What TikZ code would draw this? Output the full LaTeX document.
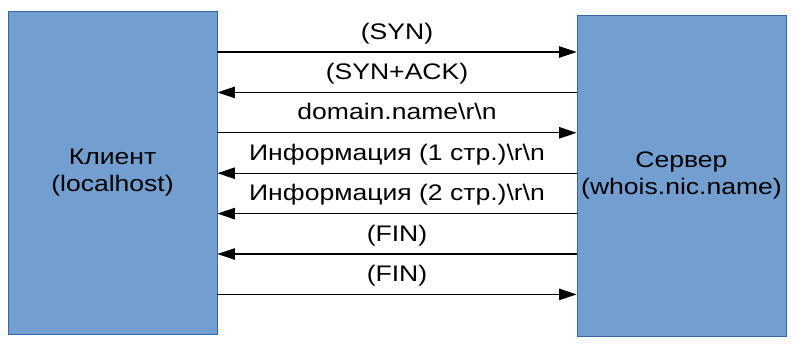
\documentclass[tikz,border=0pt]{standalone}
\usepackage{fontspec}
\setmainfont{Liberation Sans}[FakeStretch=1.18]
\usepackage{xcolor}
\usepackage{tikz}
\usetikzlibrary{arrows.meta}

\definecolor{boxfill}{HTML}{729FCF}
\definecolor{boxline}{HTML}{3465A4}

\begin{document}
\begin{tikzpicture}[x=1pt,y=-1pt,>={Triangle[length=17.5pt,width=11.5pt]},
  host/.style={draw=boxline,line width=0.9pt,fill=boxfill,minimum width=209pt,
    inner sep=0pt,align=center,font=\fontsize{22.5}{27}\selectfont},
  msg/.style={line width=1.1pt},
  lbl/.style={midway,anchor=base,yshift=13pt,inner sep=0pt,font=\fontsize{22.5}{27}\selectfont}]
  \useasboundingbox (0,0) rectangle (794,346);
  \node[host,minimum height=323pt] (client) at (112.5,172.5) {Клиент\\(localhost)};
  \node[host,minimum height=321pt] (server) at (681.5,175.5) {Сервер\\(whois.nic.name)};
  \draw[msg,->] (client.east |- 0,52) -- (server.west |- 0,52)
    node[lbl] (syn) {(SYN)};
  \draw[msg,<-] (client.east |- 0,92.4) -- (server.west |- 0,92.4)
    node[lbl] (synack) {(SYN+ACK)};
  \draw[msg,->] (client.east |- 0,132.8) -- (server.west |- 0,132.8)
    node[lbl] (query) {domain.name\textbackslash r\textbackslash n};
  \draw[msg,<-] (client.east |- 0,173.2) -- (server.west |- 0,173.2)
    node[lbl] (page1) {Информация (1 стр.)\textbackslash r\textbackslash n};
  \draw[msg,<-] (client.east |- 0,213.6) -- (server.west |- 0,213.6)
    node[lbl] (page2) {Информация (2 стр.)\textbackslash r\textbackslash n};
  \draw[msg,<-] (client.east |- 0,254) -- (server.west |- 0,254)
    node[lbl] (finsrv) {(FIN)};
  \draw[msg,->] (client.east |- 0,294.4) -- (server.west |- 0,294.4)
    node[lbl] (fincli) {(FIN)};
\end{tikzpicture}
\end{document}
